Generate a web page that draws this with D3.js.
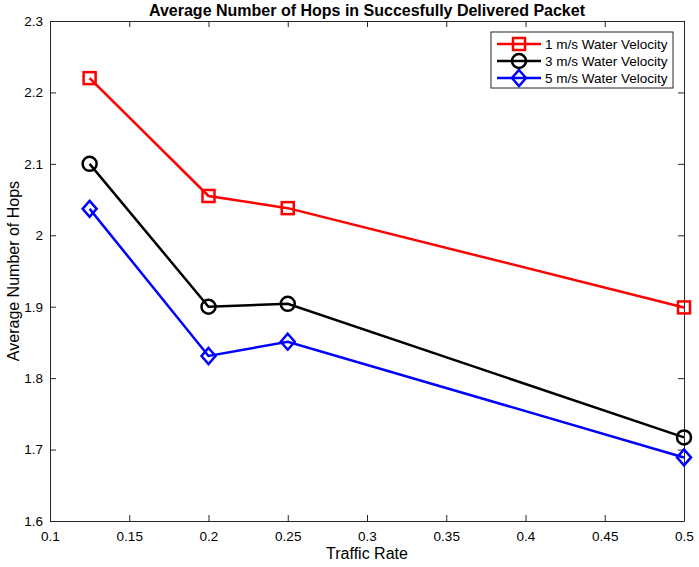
<!DOCTYPE html>
<html>
<head>
<meta charset="utf-8">
<script src="https://cdn.jsdelivr.net/npm/d3@7"></script>
<style>
    body { margin: 0; background: #fff; }
    svg { font-family: "Liberation Sans", Arial, sans-serif; }
</style>
</head>
<body>
<svg id="chart"></svg>
<script>
// Data
const trafficRates = [0.125, 0.2, 0.25, 0.5];
const hops1 = [2.22, 2.055, 2.038, 1.899];
const hops3 = [2.10, 1.90, 1.904, 1.717];
const hops5 = [2.037, 1.831, 1.851, 1.689];
const seriesNames = ["1 m/s Water Velocity", "3 m/s Water Velocity", "5 m/s Water Velocity"];
const xTicks = [0.1, 0.15, 0.2, 0.25, 0.3, 0.35, 0.4, 0.45, 0.5];
const yTicks = [1.6, 1.7, 1.8, 1.9, 2, 2.1, 2.2, 2.3];

const width = 699;
const height = 567;
const margin = { top: 21, right: 15, bottom: 46, left: 50 };

const svg = d3.select("#chart")
    .attr("width", width)
    .attr("height", height);

const x = d3.scaleLinear().domain([0.1, 0.5]).range([margin.left, width - margin.right]);
const y = d3.scaleLinear().domain([1.6, 2.3]).range([height - margin.bottom, margin.top]);

const axisColor = "#262626";
const fmt = d => String(+d.toFixed(2));

// Axes with inward ticks, box style
function styleAxis(g) {
    g.select(".domain").attr("stroke", axisColor);
    g.selectAll(".tick line").attr("stroke", axisColor);
    g.selectAll(".tick text").attr("fill", "#000").attr("font-size", 13.5);
}

svg.append("g")
    .attr("transform", `translate(0,${y.range()[0]})`)
    .call(d3.axisBottom(x).tickValues(xTicks).tickFormat(fmt).tickSizeInner(-6).tickSizeOuter(0).tickPadding(10))
    .call(styleAxis);

svg.append("g")
    .attr("transform", `translate(0,${y.range()[1]})`)
    .call(d3.axisTop(x).tickValues(xTicks).tickFormat("").tickSizeInner(-6).tickSizeOuter(0))
    .call(styleAxis);

svg.append("g")
    .attr("transform", `translate(${x.range()[0]},0)`)
    .call(d3.axisLeft(y).tickValues(yTicks).tickFormat(fmt).tickSizeInner(-6).tickSizeOuter(0).tickPadding(7))
    .call(styleAxis);

svg.append("g")
    .attr("transform", `translate(${x.range()[1]},0)`)
    .call(d3.axisRight(y).tickValues(yTicks).tickFormat("").tickSizeInner(-6).tickSizeOuter(0))
    .call(styleAxis);

// Titles
svg.append("text")
    .attr("x", (x.range()[0] + x.range()[1]) / 2)
    .attr("y", 16)
    .attr("text-anchor", "middle")
    .attr("font-size", 16)
    .attr("font-weight", "bold")
    .text("Average Number of Hops in Succesfully Delivered Packet");

svg.append("text")
    .attr("x", (x.range()[0] + x.range()[1]) / 2)
    .attr("y", 559)
    .attr("text-anchor", "middle")
    .attr("font-size", 16)
    .text("Traffic Rate");

svg.append("text")
    .attr("transform", `translate(19,${(y.range()[0] + y.range()[1]) / 2}) rotate(-90)`)
    .attr("text-anchor", "middle")
    .attr("font-size", 16)
    .text("Average Number of Hops");

// Series
const series = [
    { name: seriesNames[0], values: hops1, color: "#ff0000", marker: "square" },
    { name: seriesNames[1], values: hops3, color: "#000000", marker: "circle" },
    { name: seriesNames[2], values: hops5, color: "#0000ff", marker: "diamond" }
];

function drawMarker(g, type, color) {
    if (type === "square") {
        g.append("rect").attr("x", -6).attr("y", -6).attr("width", 12).attr("height", 12);
    } else if (type === "circle") {
        g.append("circle").attr("r", 7);
    } else {
        g.append("path").attr("d", "M0,-8L7,0L0,8L-7,0Z");
    }
    g.selectAll("*").attr("fill", "none").attr("stroke", color).attr("stroke-width", 2.5);
}

const line = d3.line()
    .x((d, i) => x(trafficRates[i]))
    .y(d => y(d));

series.forEach(s => {
    svg.append("path")
        .datum(s.values)
        .attr("fill", "none")
        .attr("stroke", s.color)
        .attr("stroke-width", 2.5)
        .attr("d", line);

    svg.append("g")
        .selectAll("g")
        .data(s.values)
        .enter().append("g")
        .attr("transform", (d, i) => `translate(${x(trafficRates[i])},${y(d)})`)
        .each(function() { drawMarker(d3.select(this), s.marker, s.color); });
});

// Legend
const legend = svg.append("g").attr("transform", "translate(491,32)");
legend.append("rect")
    .attr("width", 182)
    .attr("height", 56)
    .attr("fill", "#fff")
    .attr("stroke", axisColor)
    .attr("stroke-width", 1);

series.forEach((s, i) => {
    const row = legend.append("g").attr("transform", `translate(0,${12 + i * 17})`);
    row.append("line")
        .attr("x1", 6).attr("x2", 50)
        .attr("stroke", s.color)
        .attr("stroke-width", 2.5);
    const m = row.append("g").attr("transform", "translate(28,0)");
    drawMarker(m, s.marker, s.color);
    row.append("text")
        .attr("x", 54)
        .attr("y", 5)
        .attr("font-size", 13.5)
        .text(s.name);
});
</script>
</body>
</html>
